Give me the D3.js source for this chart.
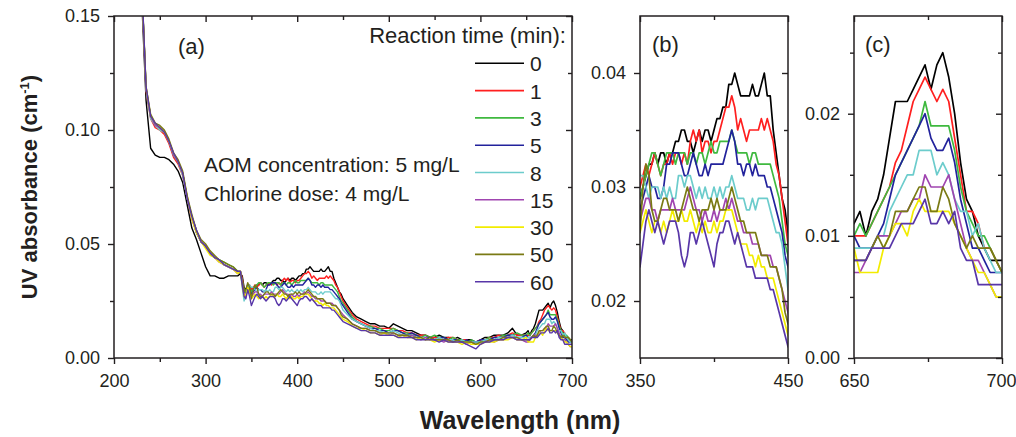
<!DOCTYPE html>
<html>
<head>
<meta charset="utf-8">
<script src="https://cdn.jsdelivr.net/npm/d3@7"></script>
<style>
  body { margin: 0; background: #fff; }
  text { font-family: Arial, "Liberation Sans", sans-serif; fill: #231f20; }
</style>
</head>
<body>
<svg id="chart" width="1016" height="437"></svg>
<script>
// sampling grid, nm
var wavelength = [230,235,240,245,250,255,260,265,270,275,280,285,290,295,300,305,310,315,320,325,330,335,
  338,340,342,344,346,348,
  350,352,354,356,358,360,362,364,366,368,370,372,374,376,378,380,382,384,386,388,390,392,394,396,398,
  400,402,404,406,408,410,412,414,416,418,420,422,424,426,428,430,432,434,436,438,440,442,444,446,448,450,
  455,460,465,470,475,480,485,490,495,500,505,510,515,520,525,530,535,540,545,550,555,560,565,570,575,
  580,585,590,595,600,605,610,615,620,625,630,635,640,645,
  650,652,654,656,658,660,662,664,666,668,670,672,674,676,678,680,682,684,686,688,690,692,694,696,698,700];

// absorbance in 10^-3 cm^-1, one array per reaction time
var abs0 = [160,113,92,89,88,88,87,85,82,77,67,57,52,46,40,36,36,35,35,36,36,36,
  37,36,31,30,32,31,
  29,30,31,32,32,33,32,33,33,32,33,33,34,34,35,35,34,34,33,34,35,34,35,35,34,35,36,36,37,37,39,39,40,39,38,38,38,38,39,38,38,39,40,38,38,35,33,31,29,28,26,
  23,20,18,17,16,15,15,14,14,13,15,14,13,12,12,11,10,10,9,9,10,9,9,8,9,8,8,8,7,8,9,9,10,10,10,11,13,10,10,
  11,12,10,12,13,15,18,21,21,21,22,23,24,22,24,25,23,20,16,13,12,10,9,8,8,8];
var abs1 = [165,117,105,101,100,98,94,88,85,80,70,61,55,51,49,46,44,43,41,40,39,38,
  38,35,30,28,31,32,
  30,31,32,31,32,33,32,31,32,32,33,32,33,33,32,33,32,34,35,34,35,33,34,34,33,34,34,35,36,37,37,38,37,35,36,35,34,35,35,35,35,36,35,36,35,34,32,31,29,27,25,
  22,19,17,16,15,14,14,13,13,13,13,12,12,11,11,10,10,10,9,9,9,8,9,9,8,8,8,7,7,8,8,9,9,10,9,10,11,10,10,
  10,10,10,11,12,13,14,16,17,19,21,22,23,22,21,22,21,18,15,12,12,11,9,9,8,7];
var abs3 = [166,118,106,102,101,99,95,89,86,81,70,62,55,51,49,46,44,43,42,41,40,38,
  38,34,30,29,32,31,
  29,30,31,32,33,33,32,31,32,33,33,33,32,33,33,33,32,33,33,32,33,33,32,33,34,33,33,34,34,34,34,35,34,33,33,33,33,32,33,33,32,32,32,32,32,31,30,29,27,25,24,
  21,18,16,15,14,14,13,13,12,12,13,12,11,11,10,10,9,10,9,10,9,9,8,9,8,8,7,8,7,7,8,9,8,9,10,10,10,11,10,
  10,11,10,11,12,13,14,15,16,17,18,19,21,19,19,19,19,17,14,12,11,10,10,9,8,7];
var abs5 = [166,118,106,102,101,99,95,89,86,81,70,62,56,51,49,46,44,43,41,40,39,38,
  38,33,29,28,31,30,
  28,29,30,31,30,30,29,29,30,32,32,33,33,33,32,31,31,32,33,32,31,31,32,31,32,32,32,32,32,33,34,35,34,32,32,31,32,32,31,32,31,31,31,30,30,29,28,27,26,24,23,
  20,17,16,15,14,13,13,12,12,11,12,12,11,10,11,10,9,9,9,8,9,9,8,8,8,7,8,7,7,8,8,8,9,9,9,10,10,9,9,
  10,9,9,9,10,11,13,15,16,17,18,19,20,18,17,17,18,16,13,11,9,9,8,7,7,7];
var abs8 = [166,118,105,102,100,99,95,89,86,80,70,62,55,51,49,46,44,43,41,40,39,38,
  38,31,25,27,31,32,
  31,31,30,29,30,30,30,29,30,29,30,29,29,31,31,30,31,31,30,29,30,29,30,29,29,30,29,30,29,30,30,31,30,29,29,29,28,28,29,28,29,29,29,29,28,27,26,26,25,23,21,
  19,17,16,15,14,13,12,12,11,11,12,11,10,10,10,9,9,9,8,8,9,8,8,8,7,8,7,7,7,7,8,8,8,9,9,9,10,9,9,
  9,9,9,9,10,10,12,13,14,15,15,17,17,17,15,16,15,13,12,12,10,11,9,8,7,7];
var abs15 = [166,118,106,102,101,99,95,89,86,81,70,62,55,51,49,46,44,42,41,40,39,37,
  38,33,28,27,30,29,
  27,28,29,29,28,28,27,28,28,28,28,29,28,28,28,28,29,30,29,28,28,27,28,27,27,28,27,28,28,29,28,29,28,27,27,26,26,26,25,25,25,24,24,24,24,23,23,22,21,20,19,
  17,15,14,13,13,12,12,11,11,10,11,10,10,9,10,9,8,9,8,8,8,7,8,7,7,7,6,7,6,6,7,8,7,8,8,9,9,8,8,
  7,7,8,9,10,10,10,11,12,12,13,13,15,14,14,14,15,13,11,9,8,8,7,6,5,5];
var abs30 = [166,119,106,103,101,99,95,90,86,81,71,61,55,51,48,45,44,42,41,40,39,37,
  38,32,27,28,31,29,
  26,27,28,27,26,27,27,26,27,26,27,28,27,27,28,27,27,28,27,26,27,26,27,26,26,27,26,27,27,28,28,28,27,26,25,25,25,24,24,23,24,23,23,22,22,22,21,20,19,18,17,
  16,14,13,13,12,11,11,10,11,10,10,9,10,9,9,8,9,8,8,7,8,8,7,7,7,6,7,6,6,6,7,7,7,8,8,8,9,8,8,
  9,7,7,7,7,9,10,11,11,10,12,13,12,12,12,12,12,11,10,9,8,7,7,6,5,5];
var abs50 = [167,119,107,103,102,100,96,90,87,82,71,63,56,52,50,47,45,43,42,41,40,38,
  38,33,29,30,33,31,
  26,30,32,31,28,27,27,28,29,29,28,28,28,27,28,29,30,29,28,28,27,28,28,28,29,28,29,28,28,28,29,30,29,28,27,27,26,26,26,26,25,24,24,24,23,23,23,22,21,19,18,
  17,15,14,13,13,12,12,11,11,11,11,10,10,10,9,9,9,8,9,8,8,8,8,7,8,7,7,7,6,7,7,8,8,8,9,9,9,9,8,
  8,8,8,9,10,9,10,12,12,12,13,14,14,12,12,14,13,11,10,9,10,9,9,9,8,7];
var abs60 = [167,119,106,103,101,99,95,90,86,81,70,62,56,51,49,46,44,43,41,40,39,38,
  38,32,27,26,30,27,
  23,25,27,28,27,26,27,26,25,26,27,27,27,26,24,23,24,26,26,25,26,27,26,25,24,23,25,26,26,27,27,26,25,26,25,24,23,23,23,22,22,22,22,22,21,21,20,19,18,17,16,
  15,14,13,12,12,11,11,10,10,10,10,9,9,9,9,8,8,8,8,8,7,8,7,7,7,7,6,5,4,6,7,7,8,8,8,9,9,8,8,
  8,8,8,9,9,9,9,10,11,11,11,12,13,11,11,12,11,12,9,8,8,6,6,6,6,6];

var times = ["0", "1", "3", "5", "8", "15", "30", "50", "60"];
var colors = ["#000000", "#ff1f1f", "#3fb93f", "#22229c", "#6ccccc", "#a045b0", "#f2ec00", "#7a7a14", "#5836a8"];
var series = [abs0, abs1, abs3, abs5, abs8, abs15, abs30, abs50, abs60];

var panels = [
  {name: "(a)", left: 114, right: 572, xDomain: [200, 700], yDomain: [0, 0.15],
   xMajor: [200, 300, 400, 500, 600, 700], xMinor: [250, 350, 450, 550, 650],
   yMajor: [0, 0.05, 0.10, 0.15], yMinor: [0.025, 0.075, 0.125], lw: 1.4, labelX: 178},
  {name: "(b)", left: 640, right: 788, xDomain: [350, 450], yDomain: [0.015, 0.045],
   xMajor: [350, 450], xMinor: [400],
   yMajor: [0.02, 0.03, 0.04], yMinor: [0.025, 0.035], lw: 1.7, labelX: 652},
  {name: "(c)", left: 854, right: 1002, xDomain: [650, 700], yDomain: [0, 0.028],
   xMajor: [650, 700], xMinor: [675],
   yMajor: [0, 0.01, 0.02], yMinor: [0.005, 0.015, 0.025], lw: 1.7, labelX: 865}
];
var plotTop = 16, plotBottom = 358;

var svg = d3.select("#chart");

panels.forEach(function (p, pi) {
  var x = d3.scaleLinear().domain(p.xDomain).range([p.left, p.right]);
  var y = d3.scaleLinear().domain(p.yDomain).range([plotBottom, plotTop]);

  svg.append("clipPath").attr("id", "clip" + pi)
    .append("rect").attr("x", p.left).attr("y", plotTop)
    .attr("width", p.right - p.left).attr("height", plotBottom - plotTop);

  var line = d3.line()
    .x(function (d) { return x(d[0]); })
    .y(function (d) { return y(d[1] / 1000); });

  var g = svg.append("g").attr("clip-path", "url(#clip" + pi + ")");
  series.forEach(function (s, si) {
    var pts = d3.zip(wavelength, s).filter(function (d) {
      return d[0] >= p.xDomain[0] - 5 && d[0] <= p.xDomain[1] + 5;
    });
    g.append("path").datum(pts)
      .attr("fill", "none")
      .attr("stroke", colors[si])
      .attr("stroke-width", p.lw)
      .attr("stroke-linejoin", "round")
      .attr("d", line);
  });

  // axes: outward ticks left/bottom, inward mirror ticks top/right
  var fmtY = d3.format(".2f");
  var axes = [
    {ax: d3.axisBottom(x).tickValues(p.xMajor).tickSize(6).tickPadding(10).tickFormat(d3.format("d")), t: "translate(0," + plotBottom + ")"},
    {ax: d3.axisBottom(x).tickValues(p.xMinor).tickSize(4).tickFormat(""), t: "translate(0," + plotBottom + ")"},
    {ax: d3.axisLeft(y).tickValues(p.yMajor).tickSize(6).tickPadding(8).tickFormat(fmtY), t: "translate(" + p.left + ",0)"},
    {ax: d3.axisLeft(y).tickValues(p.yMinor).tickSize(4).tickFormat(""), t: "translate(" + p.left + ",0)"},
    {ax: d3.axisTop(x).tickValues(p.xMajor).tickSize(-6).tickFormat(""), t: "translate(0," + plotTop + ")"},
    {ax: d3.axisTop(x).tickValues(p.xMinor).tickSize(-4).tickFormat(""), t: "translate(0," + plotTop + ")"},
    {ax: d3.axisRight(y).tickValues(p.yMajor).tickSize(-6).tickFormat(""), t: "translate(" + p.right + ",0)"},
    {ax: d3.axisRight(y).tickValues(p.yMinor).tickSize(-4).tickFormat(""), t: "translate(" + p.right + ",0)"}
  ];
  axes.forEach(function (a) {
    var ag = svg.append("g").attr("transform", a.t).call(a.ax);
    ag.select(".domain").remove();
    ag.selectAll(".tick line").attr("stroke", "#231f20").attr("stroke-width", 1.4);
    ag.selectAll(".tick text").attr("font-size", 18).attr("fill", "#231f20");
  });

  svg.append("rect")
    .attr("x", p.left).attr("y", plotTop)
    .attr("width", p.right - p.left).attr("height", plotBottom - plotTop)
    .attr("fill", "none").attr("stroke", "#231f20").attr("stroke-width", 1.5);

  svg.append("text").attr("x", p.labelX).attr("y", pi === 0 ? 54 : 52)
    .attr("font-size", 22).text(p.name);
});

// keep the last x label of panel (c) inside the page
svg.selectAll(".tick text").filter(function () { return this.textContent === "700"; })
  .filter(function (d, i, n) { return i === n.length - 1; })
  .attr("text-anchor", "end").attr("x", 14);

// annotations
svg.append("text").attr("x", 204).attr("y", 172).attr("font-size", 21).text("AOM concentration: 5 mg/L");
svg.append("text").attr("x", 204).attr("y", 201).attr("font-size", 21).text("Chlorine dose: 4 mg/L");

// legend
var legend = svg.append("g");
legend.append("text").attr("x", 566).attr("y", 43).attr("text-anchor", "end")
  .attr("font-size", 22).text("Reaction time (min):");
times.forEach(function (t, i) {
  var ly = 63.3 + i * 27.3;
  legend.append("line").attr("x1", 475).attr("x2", 524).attr("y1", ly).attr("y2", ly)
    .attr("stroke", colors[i]).attr("stroke-width", 1.6);
  legend.append("text").attr("x", 530).attr("y", ly + 8).attr("font-size", 21).text(t);
});

// axis titles
svg.append("text").attr("x", 520).attr("y", 429).attr("text-anchor", "middle")
  .attr("font-size", 25).attr("font-weight", "bold").text("Wavelength (nm)");
var yt = svg.append("text").attr("transform", "translate(37,187) rotate(-90)")
  .attr("text-anchor", "middle").attr("font-size", 22).attr("font-weight", "bold");
yt.append("tspan").text("UV absorbance (cm");
yt.append("tspan").attr("font-size", 13).attr("dy", -8).text("-1");
yt.append("tspan").attr("dy", 8).text(")");
</script>
</body>
</html>
